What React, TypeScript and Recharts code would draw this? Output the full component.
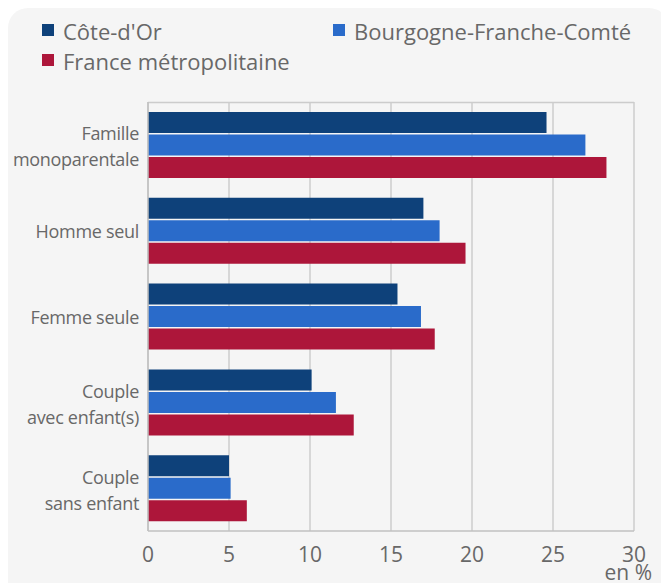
import React from 'react';
import { BarChart, Bar, XAxis, YAxis, CartesianGrid, Legend } from 'recharts';

const categories = [
  'Famille\nmonoparentale',
  'Homme seul',
  'Femme seule',
  'Couple\navec enfant(s)',
  'Couple\nsans enfant',
];
const coteDOr = [24.6, 17.0, 15.4, 10.1, 5.0];
const bourgogne = [27.0, 18.0, 16.85, 11.6, 5.1];
const france = [28.3, 19.6, 17.7, 12.7, 6.1];
const xTicks = [0, 5, 10, 15, 20, 25, 30];

const seriesNames = ['Côte-d\'Or', 'Bourgogne-Franche-Comté', 'France métropolitaine'];
const colors = ['#0e417a', '#2a6bca', '#ad163a'];

const data = categories.map((c, i) => ({
  cat: c,
  cdo: coteDOr[i],
  bfc: bourgogne[i],
  fr: france[i],
}));

const FONT = "'Open Sans', 'DejaVu Sans', sans-serif";
const TEXT = '#686868';
const W = 661;
const H = 575;

const YTick = (props: any) => {
  const { x, y, payload } = props;
  const lines = String(payload.value).split('\n');
  const offsets = lines.length === 1 ? [7] : [-4.5, 21.5];
  return (
    <g>
      {lines.map((l, i) => (
        <text key={i} x={x - 9} y={y + offsets[i]} textAnchor="end" fontSize={18} letterSpacing={-0.3} fill={TEXT} fontFamily={FONT}>
          {l}
        </text>
      ))}
    </g>
  );
};

const XTick = (props: any) => {
  const { x, y, payload } = props;
  return (
    <text x={x} y={y + 31} textAnchor="middle" fontSize={21} fill={TEXT} fontFamily={FONT}>
      {payload.value}
    </text>
  );
};

const LegendContent = () => {
  const items = [
    { x: 34, y: 16 },
    { x: 325, y: 16 },
    { x: 34, y: 46 },
  ];
  return (
    <svg width={W} height={80} style={{ display: 'block' }}>
      {items.map((it, i) => (
        <g key={i}>
          <rect x={it.x} y={it.y} width={12} height={12} fill={colors[i]} />
          <text x={it.x + 21} y={it.y + 16} fontSize={22} fill={TEXT} fontFamily={FONT}>
            {seriesNames[i]}
          </text>
        </g>
      ))}
    </svg>
  );
};

export default function App() {
  return (
    <div
      style={{
        width: W,
        height: H,
        background: '#f5f5f5',
        borderRadius: '20px 20px 0 0',
        position: 'relative',
      }}
    >
      <BarChart
        width={W}
        height={H}
        data={data}
        layout="vertical"
        margin={{ top: 94, right: 35, left: 0, bottom: 0 }}
        barCategoryGap={10}
        barGap={1.5}
      >
        <CartesianGrid
          stroke="#cccccc"
          strokeWidth={1.5}
          horizontalPoints={[94.5]}
          vertical={true}
        />
        <XAxis
          type="number"
          domain={[0, 30]}
          ticks={xTicks}
          height={52}
          tickLine={false}
          tickSize={0}
          tickMargin={0}
          axisLine={{ stroke: '#c0c0c0', strokeWidth: 1.5 }}
          tick={<XTick />}
          interval={0}
          label={{
            content: (p: any) => {
              const vb = p.viewBox || { x: 140, y: 523, width: 486, height: 52 };
              return (
                <text
                  x={vb.x + vb.width + 18}
                  y={vb.y + vb.height - 3}
                  textAnchor="end"
                  fontSize={21}
                  fill={TEXT}
                  fontFamily={FONT}
                >
                  en %
                </text>
              );
            },
          }}
        />
        <YAxis
          type="category"
          dataKey="cat"
          width={140}
          tickLine={false}
          tickSize={0}
          tickMargin={0}
          axisLine={{ stroke: '#c0c0c0', strokeWidth: 1.5 }}
          tick={<YTick />}
          interval={0}
        />
        <Legend
          verticalAlign="middle"
          align="center"
          layout="horizontal"
          content={<LegendContent />}
          wrapperStyle={{ position: 'absolute', top: 0, left: 0, width: W, height: 80 }}
        />
        <Bar dataKey="cdo" name={seriesNames[0]} fill={colors[0]} isAnimationActive={false} />
        <Bar dataKey="bfc" name={seriesNames[1]} fill={colors[1]} isAnimationActive={false} />
        <Bar dataKey="fr" name={seriesNames[2]} fill={colors[2]} isAnimationActive={false} />
      </BarChart>
    </div>
  );
}
